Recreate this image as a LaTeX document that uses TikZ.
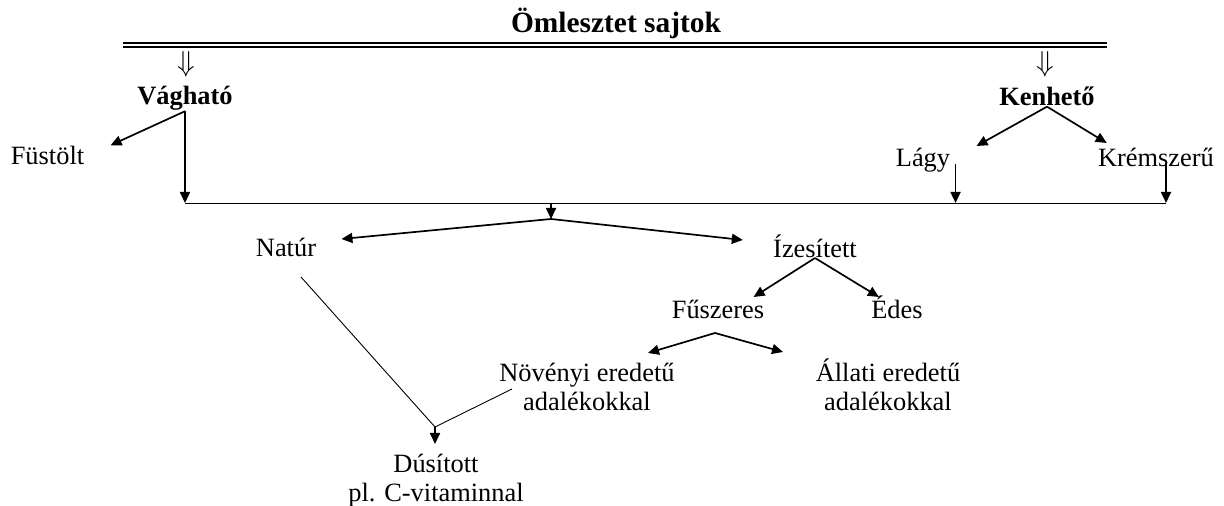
\documentclass[tikz,border=0pt]{standalone}
\usepackage{fontspec}
\setmainfont{Liberation Serif}
\usetikzlibrary{arrows.meta}

\begin{document}
\begin{tikzpicture}[x=0.5pt, y=-0.5pt,
    every node/.style={inner sep=0pt, font=\fontsize{13.2}{14.5}\selectfont},
    lbl/.style={anchor=base, align=center},
    head/.style={anchor=base, font=\fontsize{13.2}{14.5}\selectfont\bfseries},
    arr/.style={-{Triangle[length=5.5pt,width=5pt]}, line width=.85pt},
    thin/.style={line width=.45pt}]
  \useasboundingbox (0,0) rectangle (1224,506);

  % top bar
  \node[anchor=base, font=\fontsize{14.7}{17}\selectfont\bfseries] (title) at (616,33) {Ömlesztet sajtok};
  \coordinate (barL) at (123,45);
  \coordinate (barR) at (1107,45);
  \draw[double, line width=1pt, double distance=1pt] (barL) -- (barR);

  \node[font=\fontsize{15}{17}\selectfont] (dvag) at (186,64) {$\Downarrow$};
  \node[font=\fontsize{15}{17}\selectfont] (dken) at (1045,64) {$\Downarrow$};

  \node[head] (vag) at (185,105) {Vágható};
  \node[head] (ken) at (1047,106) {Kenhető};

  \node[lbl] (fust) at (47.5,165) {Füstölt};
  \node[lbl] (lagy) at (923,167) {Lágy};
  \node[lbl] (krem) at (1156,167) {Krémszerű};

  \node[lbl] (natur) at (286,257) {Natúr};
  \node[lbl] (izes) at (815,258) {Ízesített};
  \node[lbl] (fusz) at (718,319) {Fűszeres};
  \node[lbl] (edes) at (897,319) {Édes};
  % base = last line
  \node[lbl] (noveny) at (587,411) {Növényi eredetű\\adalékokkal};
  \node[lbl] (allati) at (888,411) {Állati eredetű\\adalékokkal};
  \node[lbl] (dus) at (436,502) {Dúsított\\pl. C-vitaminnal};

  % Vágható
  \draw[arr] (vag.south) -- ([shift={(26,-1)}]fust.north east);
  \coordinate (busL) at (185,203);
  \coordinate (busR) at (1166,203);
  \draw[arr] (vag.south) -- (vag.south |- busL);

  % Kenhető
  \draw[arr] (ken.south) -- ([shift={(26,-21)}]lagy.base east);
  \draw[arr] (ken.south) -- ([shift={(9,-24)}]krem.base west);
  \draw[arr] ([shift={(5,-3)}]lagy.base east) -- ([shift={(5,0)}]lagy.base east |- busL);
  \draw[arr] ([shift={(10,-4)}]krem.base) -- (busR);

  % common line
  \draw[thin] (busL) -- (busR);
  \coordinate (busM) at (551,203);
  \coordinate (split) at (551,219);
  \draw[arr] (busM) -- (split);
  \draw[arr] (split) -- ([shift={(25,-18)}]natur.base east);
  \draw[arr] (split) -- ([shift={(-30,-18)}]izes.base west);

  % Ízesített
  \draw[arr] (izes.base) -- ([shift={(-11,-22)}]fusz.base east);
  \draw[arr] (izes.base) -- ([shift={(8,-22)}]edes.base west);

  % Fűszeres
  \coordinate (fuszS) at ([shift={(-3,14)}]fusz.base);
  \draw[arr] (fuszS) -- ([shift={(61,-58)}]noveny.base);
  \draw[arr] (fuszS) -- ([shift={(-105,-59)}]allati.base);

  % Dúsított
  \coordinate (merge) at (435,427);
  \draw[thin] ([shift={(15,20)}]natur.base) -- (merge);
  \draw[thin] ([shift={(-75,-22)}]noveny.base) -- (merge);
  \draw[arr] (merge) -- ([shift={(-1,-58)}]dus.base);
\end{tikzpicture}
\end{document}
